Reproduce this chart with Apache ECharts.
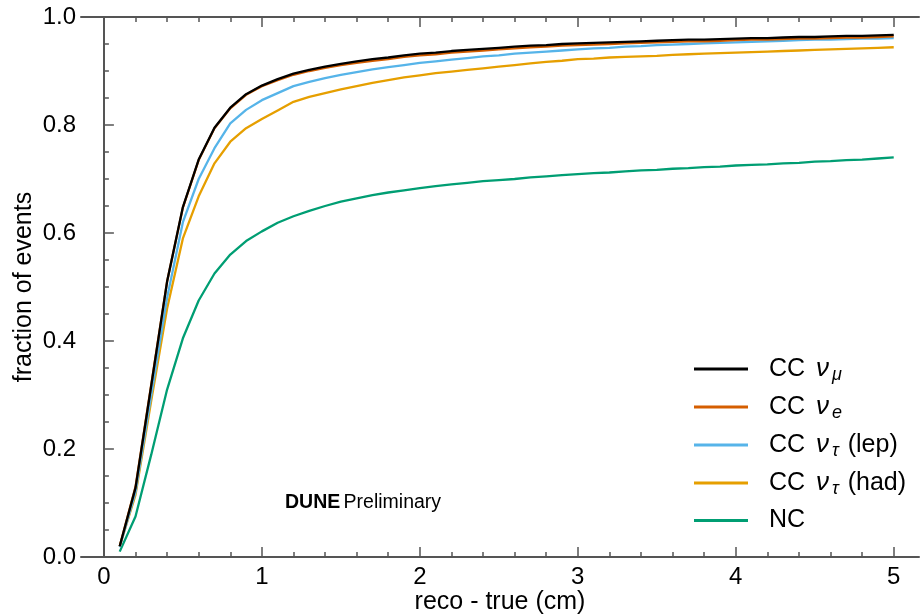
<!DOCTYPE html>
<html><head><meta charset="utf-8">
<script src="https://cdn.jsdelivr.net/npm/echarts@6/dist/echarts.min.js"></script>
<style>html,body{margin:0;padding:0;background:#fff}#c{width:920px;height:614px}</style>
</head><body><div id="c"></div>
<script>
var xs = [0.1,0.2,0.3,0.4,0.5,0.6,0.7,0.8,0.9,1.0,1.1,1.2,1.3,1.4,1.5,1.6,1.7,1.8,1.9,2.0,2.1,2.2,2.3,2.4,2.5,2.6,2.7,2.8,2.9,3.0,3.1,3.2,3.3,3.4,3.5,3.6,3.7,3.8,3.9,4.0,4.1,4.2,4.3,4.4,4.5,4.6,4.7,4.8,4.9,5.0];
var ccNuMu = [0.020,0.128,0.318,0.510,0.648,0.736,0.795,0.832,0.857,0.873,0.885,0.895,0.902,0.908,0.913,0.918,0.922,0.925,0.929,0.932,0.934,0.937,0.939,0.941,0.943,0.945,0.947,0.948,0.950,0.951,0.952,0.953,0.954,0.955,0.956,0.957,0.958,0.958,0.959,0.960,0.961,0.961,0.962,0.963,0.963,0.964,0.965,0.965,0.966,0.967];
var ccNuE = [0.020,0.130,0.320,0.510,0.647,0.735,0.794,0.831,0.856,0.872,0.883,0.893,0.900,0.906,0.911,0.915,0.919,0.922,0.926,0.929,0.931,0.934,0.936,0.938,0.940,0.942,0.944,0.945,0.947,0.948,0.949,0.950,0.951,0.952,0.953,0.954,0.955,0.955,0.956,0.957,0.958,0.958,0.959,0.960,0.960,0.961,0.962,0.962,0.963,0.964];
var ccNuTauLep = [0.018,0.120,0.300,0.480,0.620,0.700,0.757,0.803,0.828,0.846,0.859,0.872,0.880,0.887,0.893,0.898,0.903,0.907,0.911,0.915,0.918,0.921,0.924,0.927,0.929,0.932,0.934,0.936,0.938,0.940,0.942,0.943,0.945,0.946,0.948,0.949,0.950,0.951,0.952,0.953,0.954,0.955,0.956,0.957,0.958,0.958,0.959,0.960,0.960,0.961];
var ccNuTauHad = [0.020,0.115,0.290,0.460,0.590,0.668,0.729,0.769,0.794,0.811,0.827,0.843,0.852,0.859,0.866,0.872,0.878,0.883,0.888,0.892,0.896,0.899,0.902,0.905,0.908,0.911,0.914,0.917,0.919,0.922,0.923,0.925,0.926,0.927,0.928,0.930,0.931,0.932,0.933,0.934,0.935,0.936,0.937,0.938,0.939,0.940,0.941,0.942,0.943,0.944];
var nc = [0.010,0.075,0.190,0.310,0.405,0.475,0.525,0.560,0.585,0.603,0.619,0.631,0.641,0.650,0.658,0.664,0.670,0.675,0.679,0.683,0.687,0.690,0.693,0.696,0.698,0.700,0.703,0.705,0.707,0.709,0.711,0.712,0.714,0.716,0.717,0.719,0.720,0.722,0.723,0.725,0.726,0.727,0.729,0.730,0.732,0.733,0.735,0.736,0.738,0.740];
var seriesNames = ['CC νμ','CC νe','CC ντ (lep)','CC ντ (had)','NC'];
var seriesData = [ccNuMu, ccNuE, ccNuTauLep, ccNuTauHad, nc];
var colors = ['#000000','#d55e00','#56b4e9','#e69f00','#009e73'];
var xMajorTicks = [0,1,2,3,4,5];
var xMinorTicks = [0.2,0.4,0.6,0.8,1.2,1.4,1.6,1.8,2.2,2.4,2.6,2.8,3.2,3.4,3.6,3.8,4.2,4.4,4.6,4.8];
var legendRich = {
  'CC νμ': '{t|CC }{nu|ν}{sub|μ}',
  'CC νe': '{t|CC }{nu|ν}{sub|e}',
  'CC ντ (lep)': '{t|CC }{nu|ν}{sub|τ}{t| (lep)}',
  'CC ντ (had)': '{t|CC }{nu|ν}{sub|τ}{t| (had)}',
  'NC': '{t|NC}'
};
var FONT = 'Liberation Sans, Arial, sans-serif';
var axisCol = '#555555';

var chart = echarts.init(document.getElementById('c'), null, {renderer:'canvas'});
function xAxisBase(pos, ticks, len, showLabels, showLine, name) {
  return {
    type:'value', position: pos, min:-0.145, max:5.16,
    name: name || '', nameLocation:'middle', nameGap: 33, nameMoveOverlap:false,
    nameTextStyle:{fontSize:25, fontFamily:FONT, color:'#000'},
    axisLine:{show:showLine, onZero:false, lineStyle:{color:axisCol, width:2}},
    axisTick:{show:true, inside:true, length:len, customValues:ticks, lineStyle:{color:axisCol, width:1.5}},
    axisLabel:{show:showLabels, customValues:ticks, fontSize:24, fontFamily:FONT, color:'#000', margin:8},
    splitLine:{show:false}
  };
}
var option = {
  animation:false,
  backgroundColor:'#fff',
  grid:{left:81, top:17, width:838, height:540, containLabel:false, outerBoundsMode:'none'},
  xAxis:[
    xAxisBase('bottom', xMajorTicks, 10, true, true, 'reco - true (cm)'),
    xAxisBase('bottom', xMinorTicks, 5, false, false),
    xAxisBase('top', xMajorTicks, 10, false, true),
    xAxisBase('top', xMinorTicks, 5, false, false)
  ],
  yAxis:[{
    type:'value', min:0, max:1, interval:0.2,
    name:'fraction of events', nameLocation:'middle', nameGap:44, nameMoveOverlap:false,
    nameTextStyle:{fontSize:25, fontFamily:FONT, color:'#000'},
    axisLine:{show:true, lineStyle:{color:axisCol, width:2}},
    axisTick:{show:true, inside:true, length:10, lineStyle:{color:axisCol, width:1.5}},
    minorTick:{show:true, splitNumber:4, length:5, lineStyle:{color:axisCol, width:1.5}},
    axisLabel:{fontSize:24, fontFamily:FONT, color:'#000', margin:5, formatter:function(v){return v.toFixed(1);}},
    splitLine:{show:false}
  }],
  legend:{
    orient:'vertical', left:694, top:356, padding:0, itemWidth:54, itemHeight:3, itemGap:10,
    icon:'rect',
    data: seriesNames,
    formatter:function(n){return legendRich[n];},
    textStyle:{
      fontFamily:FONT, color:'#000', padding:[0,0,0,16],
      rich:{
        t:{fontSize:25, fontFamily:FONT, color:'#000', height:28},
        nu:{fontSize:26, fontFamily:FONT, fontStyle:'italic', color:'#000', height:28, padding:[0,3,0,4]},
        sub:{fontSize:18, fontFamily:FONT, fontStyle:'italic', color:'#000', padding:[12,2,0,0]}
      }
    }
  },
  graphic:[{
    type:'text', left:285, top:493,
    style:{
      text:'{b|DUNE} {r|Preliminary}',
      rich:{
        b:{fontSize:19.5, fontWeight:'bold', fontFamily:FONT, fill:'#000'},
        r:{fontSize:19.5, fontFamily:FONT, fill:'#000'}
      }
    }
  }],
  series: seriesNames.map(function(n,i){
    return {
      name:n, type:'line', xAxisIndex:0, yAxisIndex:0, symbol:'none', smooth:false,
      lineStyle:{color:colors[i], width:2.3}, itemStyle:{color:colors[i]},
      data: xs.map(function(x,j){return [x, seriesData[i][j]];}),
      z: 10 - i
    };
  })
};
chart.setOption(option);
</script></body></html>
